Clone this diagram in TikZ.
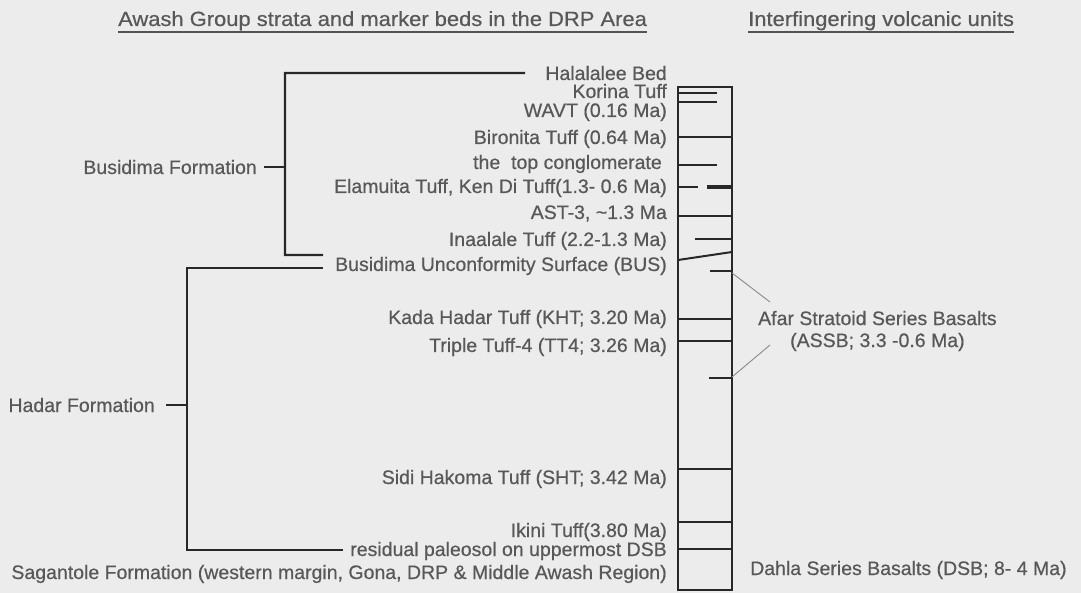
\documentclass[tikz,border=0pt]{standalone}
\usepackage{fontspec}
\setmainfont[FakeBold=0.5]{Liberation Sans}
\newfontfamily\headfont[FakeStretch=1.07,FakeBold=0.5]{Liberation Sans}
\usetikzlibrary{positioning,calc}
\definecolor{paper}{RGB}{236,236,236}
\definecolor{ink}{RGB}{40,40,40}
\definecolor{txtgray}{RGB}{88,88,88}

\begin{document}
\begin{tikzpicture}[x=1pt, y=-1pt,
  bed/.style={anchor=base east, inner sep=0pt, text=txtgray, font=\fontsize{19.5}{22}\selectfont},
  unit/.style={bed, anchor=base west},
  heading/.style={anchor=base west, inner sep=0pt, text=txtgray, font=\headfont\fontsize{20.5}{24}\selectfont},
  bracket/.style={draw=ink, line width=2.2pt},
  layer/.style={draw=ink, line width=2pt},
  leader/.style={draw=ink!55, line width=0.9pt}
]
\fill[paper] (0,0) rectangle (1081,593);

% headings
\node[heading] (headstrata) at (118,26) {Awash Group strata and marker beds in the DRP Area};
\node[heading] (headvolc) at (748,26) {Interfingering volcanic units};
\draw[line width=2.2pt, draw=ink!80] ($(headstrata.base west)+(0,6)$) -- ($(headstrata.base east)+(0,6)$);
\draw[line width=2.2pt, draw=ink!80] ($(headvolc.base west)+(0,6)$) -- ($(headvolc.base east)+(0,6)$);

% marker beds
\node[bed] (halalalee) at (667,80) {Halalalee Bed};
\node[bed] (korina) at (667,98) {Korina Tuff};
\node[bed] (wavt) at (667,117) {WAVT (0.16 Ma)};
\node[bed] (bironita) at (667,144) {Bironita Tuff (0.64 Ma)};
\node[bed] (topcgl) at (662,169) {the\ \ top conglomerate};
\node[bed] (elamuita) at (667,193) {Elamuita Tuff, Ken Di Tuff(1.3- 0.6 Ma)};
\node[bed] (ast) at (667,219) {AST-3, \textasciitilde1.3 Ma};
\node[bed] (inaalale) at (667,246) {Inaalale Tuff (2.2-1.3 Ma)};
\node[bed] (bus) at (667,271) {Busidima Unconformity Surface (BUS)};
\node[bed] (kht) at (667,324) {Kada Hadar Tuff (KHT; 3.20 Ma)};
\node[bed] (ttf) at (667,352) {Triple Tuff-4 (TT4; 3.26 Ma)};
\node[bed] (sht) at (667,484) {Sidi Hakoma Tuff (SHT; 3.42 Ma)};
\node[bed] (ikini) at (667,537) {Ikini Tuff(3.80 Ma)};
\node[bed] (paleosol) at (667,556) {residual paleosol on uppermost DSB};
\node[bed] (sagantole) at (667,579) {Sagantole Formation (western margin, Gona, DRP \& Middle Awash Region)};

% formations
\node[bed] (busfm) at (257,174) {Busidima Formation};
\node[bed] (hadarfm) at (155,412) {Hadar Formation};

% brackets
\coordinate (bustop) at (285,73);
\coordinate (busbot) at (285,255);
\coordinate (hadtop) at (187,268);
\coordinate (hadbot) at (187,550);
\draw[bracket] ($(halalalee.west)+(-20,0)$) -- (bustop) -- (busbot) -- ++(38,0);
\draw[bracket] ($(busfm.east)+(7,0)$) -- (busfm.east -| bustop);
\draw[bracket] ($(hadtop)+(136,0)$) -- (hadtop) -- (hadbot) -- ($(paleosol.base west |- hadbot)+(-7,0)$);
\draw[bracket] ($(hadarfm.east)+(11,0)$) -- (hadarfm.east -| hadtop);

% volcanic column
\draw[layer] (678,87) rectangle (732,590);
\foreach \y in {137,216,319,341,469,522,549}
  \draw[layer] (678,\y) -- (732,\y);
\foreach \y in {93,102,165}
  \draw[layer] (678,\y) -- (717,\y);
\foreach \x/\y in {695/239,710/271,709/378}
  \draw[layer] (\x,\y) -- (732,\y);
\draw[layer] (678,260) -- (732,252);
\draw[layer] (678,187) -- (698,187);
\draw[layer, line width=4pt] (707,187) -- (732,187);

% volcanic units
\node[unit, anchor=west, align=center] (assb) at (758,331) {Afar Stratoid Series Basalts\\(ASSB; 3.3 -0.6 Ma)};
\node[unit] (dsb) at (750,575) {Dahla Series Basalts (DSB; 8- 4 Ma)};
\draw[leader] (732,273) -- ($(assb.west)+(12,-29)$);
\draw[leader] (732,377) -- ($(assb.west)+(12,14)$);
\end{tikzpicture}
\end{document}
